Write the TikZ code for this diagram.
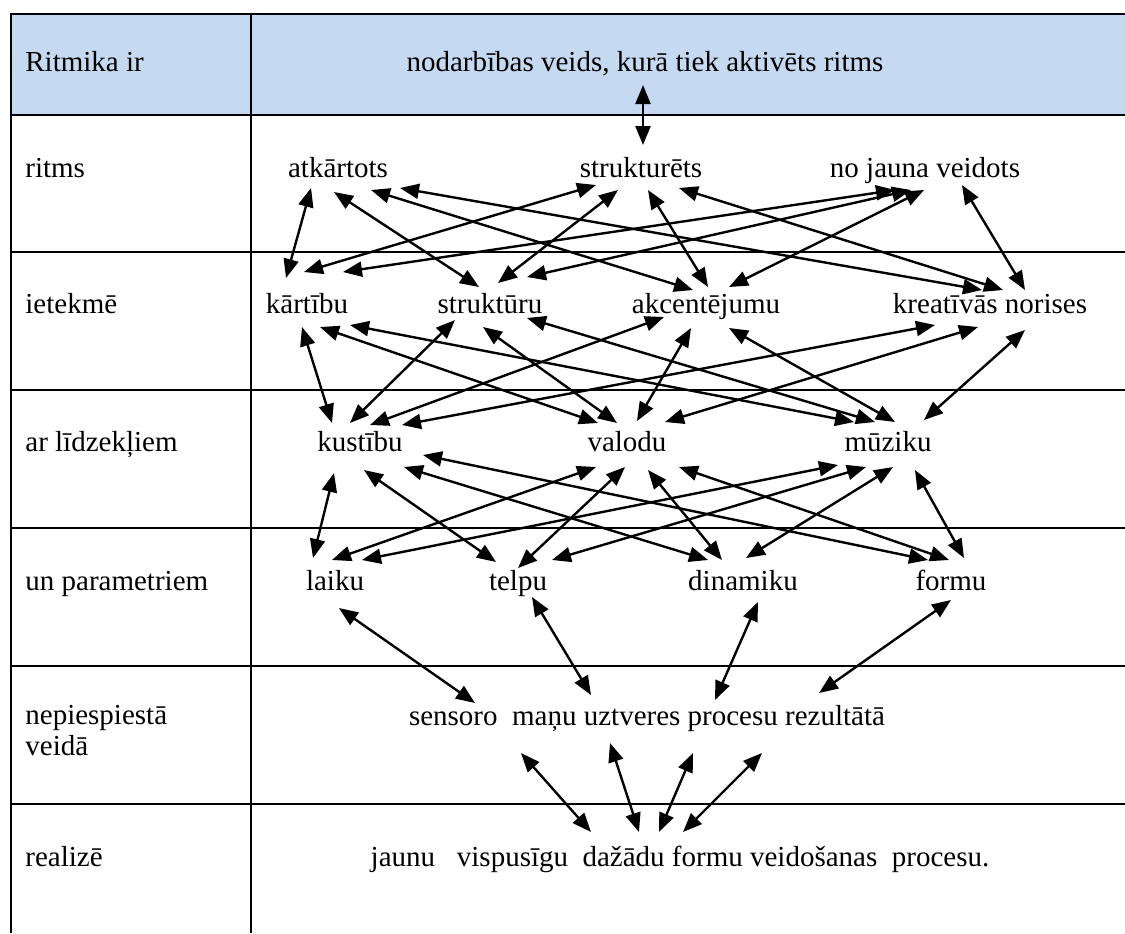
\documentclass[tikz,border=0pt]{standalone}
\usepackage{fontspec}
\setmainfont{Liberation Serif}
\newfontfamily\tnr{Liberation Serif}
\usepackage{tikz}
\usetikzlibrary{calc,arrows.meta}
\definecolor{headblue}{RGB}{197,217,241}

\begin{document}
\begin{tikzpicture}[x=0.5pt, y=-0.5pt,
    word/.style={anchor=base, inner sep=0pt, font=\tnr\fontsize{14.5}{15.5}\selectfont},
    lbl/.style={word, anchor=base west, align=left},
    dbl/.style={{Triangle[length=9.5pt,width=7.5pt]}-{Triangle[length=9.5pt,width=7.5pt]}, line width=1.2pt},
    grid/.style={line width=1.3pt}]
    \useasboundingbox (0,0) rectangle (1125,933);

    % Table
    \fill[headblue] (11,14) rectangle (1125,115);
    \draw[grid] (11,933) -- (11,14) -- (1125,14);
    \draw[grid] (251,14) -- (251,933);
    \foreach \y in {115,252,390,528,666,804}
        \draw[grid] (11,\y) -- (1125,\y);

    % Row labels
    \node[lbl] (r1) at (25,71) {Ritmika ir};
    \node[lbl] (r2) at (25,177) {ritms};
    \node[lbl] (r3) at (25,313) {ietekmē};
    \node[lbl] (r4) at (25,451) {ar līdzekļiem};
    \node[lbl] (r5) at (25,590) {un parametriem};
    \node[lbl] (r6) at (25,755) {nepiespiestā\\veidā};
    \node[lbl] (r7) at (25,866) {realizē};

    % Words
    \node[word] (hdr) at (645,71) {nodarbības veids, kurā tiek aktivēts ritms};
    \node[word] (atk) at (338,177) {atkārtots};
    \node[word] (str) at (641,177) {strukturēts};
    \node[word] (noj) at (925,177) {no jauna veidots};
    \node[word] (kar) at (307,313) {kārtību};
    \node[word] (stu) at (490,313) {struktūru};
    \node[word] (akc) at (706,313) {akcentējumu};
    \node[word] (kre) at (990,313) {kreatīvās norises};
    \node[word] (kus) at (360,451) {kustību};
    \node[word] (val) at (627,451) {valodu};
    \node[word] (muz) at (888,451) {mūziku};
    \node[word] (lai) at (335,590) {laiku};
    \node[word] (tel) at (518,590) {telpu};
    \node[word] (din) at (743,590) {dinamiku};
    \node[word] (frm) at (951,590) {formu};
    \node[word] (sens) at (647,725) {sensoro\ \ maņu uztveres procesu rezultātā};
    \node[word] (real) at (680,866) {jaunu\ \ \ vispusīgu\ \ dažādu formu veidošanas\ \ procesu.};

    % Connectors
    \draw[dbl] ($(hdr.base)+(-2,14)$) -- ($(str.base)+(2,-32)$);
    \foreach \a/\ax/\ay/\b/\bx/\by in {
        atk/-27/11/kar/-21/-35, atk/-4/15/stu/-11/-26, atk/33/13/akc/-13/-23, atk/62/11/kre/-8/-23,
        str/-45/8/kar/-3/-41, str/-23/13/stu/8/-30, str/7/13/akc/2/-26, str/38/11/kre/13/-23,
        noj/-30/13/kar/36/-41, noj/-14/13/stu/37/-36, noj/-1/13/akc/23/-26, noj/37/8/kre/35/-23,
        kar/-5/14/kus/-28/-28, kar/13/14/val/-29/-28, kar/43/12/muz/-34/-29,
        stu/-35/7/kus/-10/-28, stu/-7/14/val/-10/-28, stu/37/5/muz/-13/-29,
        akc/-42/4/kus/10/-26, akc/-15/15/val/10/-30, akc/23/15/muz/7/-29,
        kre/-55/12/kus/42/-26, kre/-12/14/val/38/-29, kre/35/17/muz/36/-31,
        kus/-26/22/lai/-22/-32, kus/4/19/tel/-22/-28, kus/44/16/din/-35/-30, kus/63/4/frm/-23/-30,
        val/-31/16/lai/-3/-30, val/-2/16/tel/0/-22, val/21/19/din/-21/-30, val/52/16/frm/-2/-30,
        muz/-50/14/lai/27/-30, muz/-22/16/tel/34/-30, muz/5/16/din/3/-32, muz/27/19/frm/13/-32,
        lai/4/18/sens/-172/-22, tel/14/7/sens/-56/-30, din/15/12/sens/68/-25, frm/0/10/sens/172/-32,
        sens/-126/28/real/-89/-34, sens/-37/18/real/-41/-34, sens/46/28/real/-21/-34, sens/115/28/real/3/-34}
        \draw[dbl] ($(\a.base)+(\ax,\ay)$) -- ($(\b.base)+(\bx,\by)$);
\end{tikzpicture}
\end{document}
